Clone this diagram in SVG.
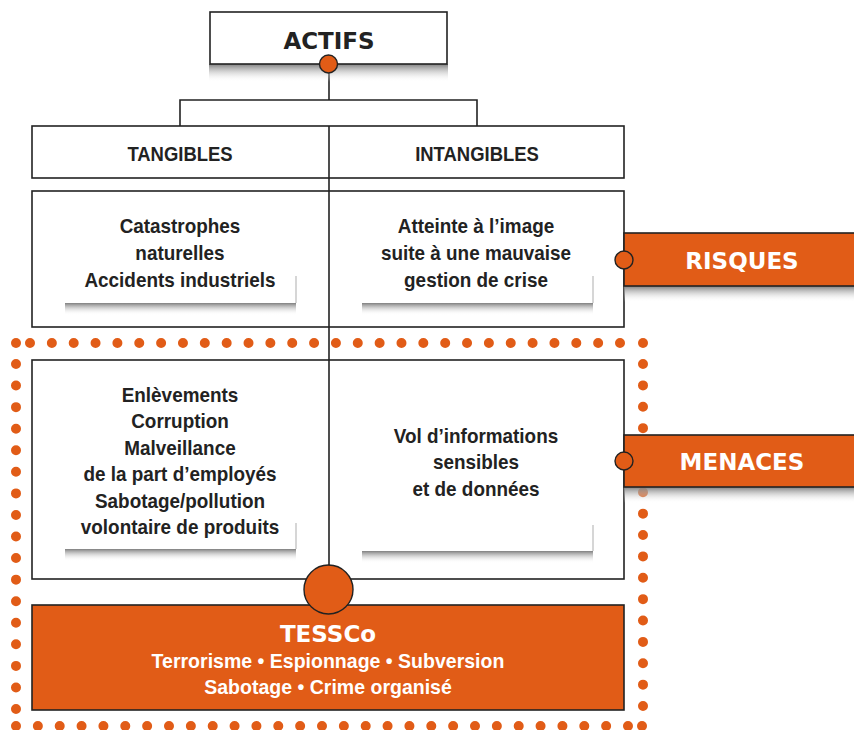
<svg xmlns="http://www.w3.org/2000/svg" width="854" height="730" viewBox="0 0 854 730">
<defs>
<linearGradient id="sh" x1="0" y1="0" x2="0" y2="1">
<stop offset="0" stop-color="#7f7f7f" stop-opacity="1"/>
<stop offset="1" stop-color="#ffffff" stop-opacity="0"/>
</linearGradient>
<style>
.box{fill:#fff;stroke:#222;stroke-width:1.6}
.obox{fill:#E15C17;stroke:#222;stroke-width:1.6}
.ln{fill:none;stroke:#222;stroke-width:1.6}
.dot{fill:none;stroke:#E15C17;stroke-width:10;stroke-linecap:round}
.dotc{fill:#E15C17}
.circ{fill:#E15C17;stroke:#222;stroke-width:1.4}
.geo{font-family:"DejaVu Sans",sans-serif;font-weight:bold;text-anchor:middle;font-size:23px}
.cond{font-family:"Liberation Sans",Arial,sans-serif;font-weight:bold;text-anchor:middle;font-size:21px}
.dark{fill:#222}
.white{fill:#fff}
.sheet{stroke:#bbb;stroke-width:1.2}
</style>
</defs>

<g id="connectors">
<line class="ln" x1="329" y1="64" x2="329" y2="100"/>
<polyline class="ln" points="180,126 180,100 477,100 477,126"/>
</g>

<g id="actifs">
<rect x="209" y="64" width="239" height="18" fill="url(#sh)"/>
<rect class="box" x="210" y="12" width="237" height="52"/>
<text class="geo dark" x="329" y="49">ACTIFS</text>
<circle class="circ" cx="328.5" cy="64" r="9"/>
</g>

<g id="header-row">
<rect class="box" x="32" y="126" width="592" height="52"/>
<text class="cond dark" transform="translate(180 0) scale(0.9 1)" x="0" y="161" style="font-size:20.5px">TANGIBLES</text>
<text class="cond dark" transform="translate(477 0) scale(0.9 1)" x="0" y="161" style="font-size:20.5px">INTANGIBLES</text>
</g>

<g id="risk-row">
<rect class="box" x="32" y="191" width="592" height="136"/>
<rect x="65" y="303" width="231" height="12" fill="url(#sh)"/>
<line class="sheet" x1="296" y1="276" x2="296" y2="303"/>
<rect x="362" y="303" width="231" height="12" fill="url(#sh)"/>
<line class="sheet" x1="593" y1="276" x2="593" y2="303"/>
<text class="cond dark" transform="translate(180 0) scale(0.9 1)"><tspan x="0" y="233">Catastrophes</tspan><tspan x="0" y="260">naturelles</tspan><tspan x="0" y="287">Accidents industriels</tspan></text>
<text class="cond dark" transform="translate(476 0) scale(0.9 1)"><tspan x="0" y="233">Atteinte à l’image</tspan><tspan x="0" y="260">suite à une mauvaise</tspan><tspan x="0" y="287">gestion de crise</tspan></text>
</g>

<g id="threat-row">
<rect class="box" x="32" y="360" width="592" height="219"/>
<rect x="65" y="549" width="231" height="12" fill="url(#sh)"/>
<line class="sheet" x1="296" y1="523" x2="296" y2="549"/>
<rect x="362" y="551" width="231" height="12" fill="url(#sh)"/>
<line class="sheet" x1="593" y1="525" x2="593" y2="551"/>
<text class="cond dark" transform="translate(180 0) scale(0.9 1)"><tspan x="0" y="402">Enlèvements</tspan><tspan x="0" y="428.5">Corruption</tspan><tspan x="0" y="455">Malveillance</tspan><tspan x="0" y="481.5">de la part d’employés</tspan><tspan x="0" y="508">Sabotage/pollution</tspan><tspan x="0" y="534.5">volontaire de produits</tspan></text>
<text class="cond dark" transform="translate(476 0) scale(0.9 1)"><tspan x="0" y="443">Vol d’informations</tspan><tspan x="0" y="469.5">sensibles</tspan><tspan x="0" y="496">et de données</tspan></text>
</g>

<g id="divider">
<line class="ln" x1="329" y1="126" x2="329" y2="579"/>
</g>

<g id="dotted-border">
<line class="dot" x1="30" y1="343" x2="620.5" y2="343" stroke-dasharray="0 21.852"/>
<line class="dot" x1="16" y1="364" x2="16" y2="709.5" stroke-dasharray="0 21.5625"/>
<line class="dot" x1="16" y1="726" x2="628.5" y2="726" stroke-dasharray="0 21.857"/>
<line class="dot" x1="643" y1="364" x2="643" y2="706.5" stroke-dasharray="0 21.375"/>
<circle class="dotc" cx="16" cy="343" r="5"/>
<circle class="dotc" cx="643" cy="343" r="5"/>
<circle class="dotc" cx="642" cy="726" r="5"/>
</g>

<g id="risques">
<rect x="624" y="286" width="230" height="16" fill="url(#sh)"/>
<rect class="obox" x="624" y="233" width="232" height="53"/>
<text class="geo white" x="742" y="269">RISQUES</text>
<circle class="circ" cx="624" cy="260" r="9"/>
</g>

<g id="menaces">
<rect x="624" y="487" width="230" height="16" fill="url(#sh)"/>
<rect class="obox" x="624" y="435" width="232" height="52"/>
<text class="geo white" x="742" y="470">MENACES</text>
<circle class="circ" cx="624" cy="461" r="9"/>
</g>

<g id="tessco">
<rect class="obox" x="32" y="605" width="592" height="105"/>
<circle class="circ" cx="328.5" cy="589.5" r="24.5"/>
<text class="geo white" x="328" y="642">TESSCo</text>
<text class="cond white" transform="translate(328 0) scale(0.93 1)"><tspan x="0" y="668">Terrorisme • Espionnage • Subversion</tspan><tspan x="0" y="694">Sabotage • Crime organisé</tspan></text>
</g>
</svg>
